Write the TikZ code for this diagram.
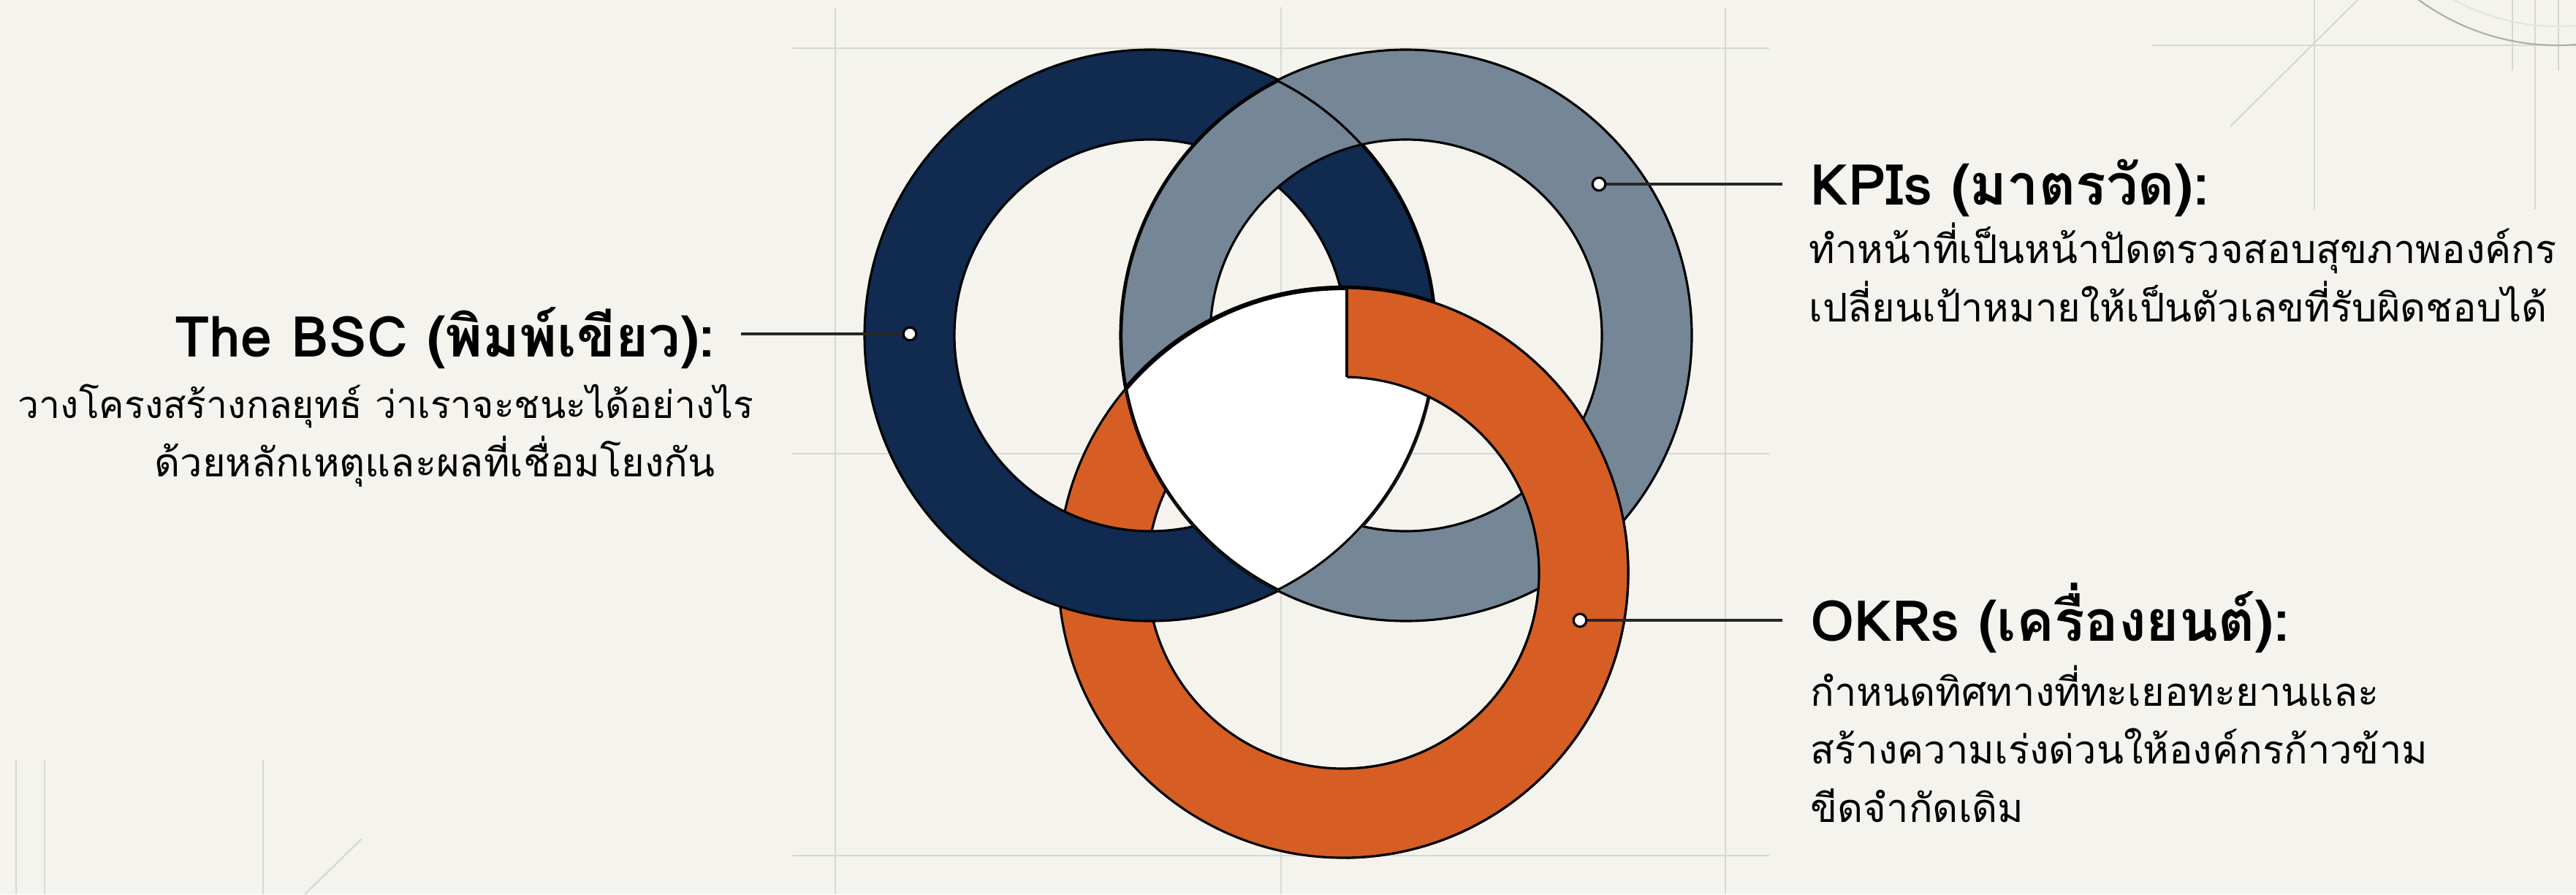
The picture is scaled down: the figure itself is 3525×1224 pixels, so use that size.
\documentclass[tikz,border=0pt]{standalone}
\usepackage{fontspec}
\setmainfont[Script=Thai]{Loma}
\usetikzlibrary{positioning}
\definecolor{bg}{HTML}{F4F3EE}
\definecolor{navy}{HTML}{102A50}
\definecolor{slate}{HTML}{758696}
\definecolor{rust}{HTML}{D65E24}
\definecolor{gridc}{HTML}{D8D8D3}
\tikzset{
  ring/.style={draw=black, line width=0.9pt, even odd rule},
  guide/.style={draw=gridc, line width=0.6pt},
  dot/.style={circle, draw=black, fill=white, line width=0.9pt, inner sep=0pt, minimum size=5pt},
  callout/.style={draw=black!85, line width=1.1pt},
  head/.style={font=\bfseries\fontsize{22}{27}\selectfont, inner sep=0pt},
  body/.style={font=\fontsize{15.4}{22.6}\selectfont, inner sep=0pt}}

\begin{document}
\begin{tikzpicture}[x=0.01cm, y=-0.01cm]
\fill[bg] (0,0) rectangle (3525,1224);
\useasboundingbox (0,0) rectangle (3525,1224);
\coordinate (n) at (1574,459);
\coordinate (g) at (1924,459);
\coordinate (o) at (1838,784);

\foreach \x in {1143,1753,2361} \draw[guide] (\x,10) -- (\x,1224);
\foreach \y in {66,621,1171} \draw[guide] (1084,\y) -- (2421,\y);
\draw[guide] (2944,62) -- (3525,62);
\draw[guide] (3052,173) -- (3226,0);
\draw[guide] (3167,0) -- (3167,287) (3469,0) -- (3469,287);
\draw[guide] (3438,0) -- (3438,97) (3501,0) -- (3501,97);
\draw[guide, draw=gridc!80!black] (3500,-260) circle (322);
\draw[guide, draw=gridc!70] (3500,-260) circle (296);
\foreach \x in {22,61,360} \draw[guide] (\x,1040) -- (\x,1224);
\draw[guide] (495,1148) -- (417,1224);

\fill[rust, ring] (o) circle (390) (o) circle (268);
\fill[navy, ring] (n) circle (391) (n) circle (268);
\fill[slate, ring] (g) circle (391) (g) circle (268);
\begin{scope}
  \clip (n) circle (391);
  \clip (g) circle (391);
  \fill[white] (o) circle (390);
  \draw[line width=1.8pt] (n) circle (391) (g) circle (391) (o) circle (390);
\end{scope}
\begin{scope}
  \clip (1843,0) rectangle (3525,1224);
  \fill[rust, ring] (o) circle (390) (o) circle (268);
\end{scope}
\coordinate (cuttop) at (1843,394);
\coordinate (cutbot) at (1843,516);
\draw[line width=0.9pt] (cuttop) -- (cutbot);

\node[dot] (bscdot) at (1245,457) {};
\node[dot] (kpidot) at (2188,252) {};
\node[dot] (okrdot) at (2162,849) {};
\coordinate (bscend) at (1014,457);
\coordinate (kpiend) at (2439,252);
\coordinate (okrend) at (2439,849);
\draw[callout] (bscend) -- (bscdot);
\draw[callout] (kpidot) -- (kpiend);
\draw[callout] (okrdot) -- (okrend);

\node[head, anchor=base east] (bsc) at (979,488) {The BSC (พิมพ์เขียว):};
\node[body, anchor=base east, align=right] (bsctxt) at (979,652)
  {{\fontsize{14.7}{22.6}\selectfont วางโครงสร้างกลยุทธ์ ว่าเราจะชนะได้อย่างไร}\hspace*{-15pt}\\ด้วยหลักเหตุและผลที่เชื่อมโยงกัน};
\node[head, anchor=base west] (kpi) at (2477,280) {KPIs (มาตรวัด):};
\node[body, anchor=base west, align=left] (kpitxt) at (2475,440)
  {ทำหน้าที่เป็นหน้าปัดตรวจสอบสุขภาพองค์กร\\เปลี่ยนเป้าหมายให้เป็นตัวเลขที่รับผิดชอบได้};
\node[head, anchor=base west] (okr) at (2477,877) {OKRs (เครื่องยนต์):};
\node[body, anchor=base west, align=left] (okrtxt) at (2477,1125)
  {กำหนดทิศทางที่ทะเยอทะยานและ\\สร้างความเร่งด่วนให้องค์กรก้าวข้าม\\ขีดจำกัดเดิม};
\end{tikzpicture}
\end{document}
